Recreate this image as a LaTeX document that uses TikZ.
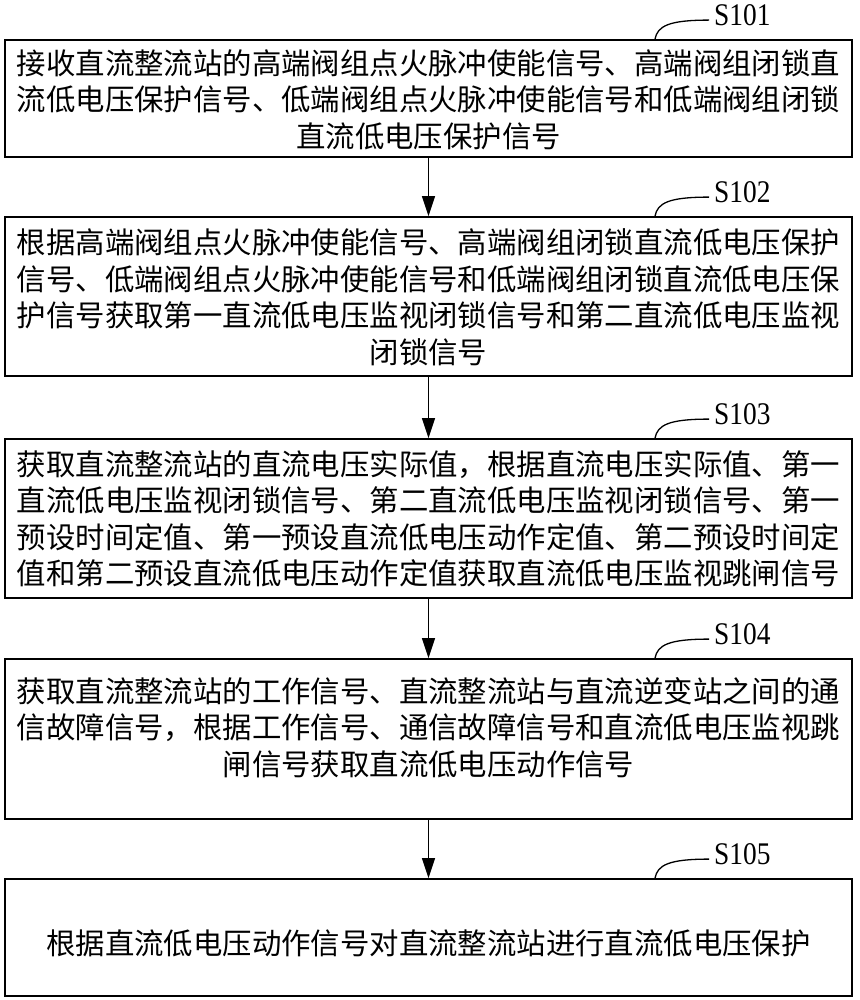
\documentclass[tikz,border=0pt]{standalone}
\usepackage{fontspec}
\setmainfont{Liberation Serif}
\newfontfamily\cjk{Noto Sans CJK SC}
\usetikzlibrary{arrows.meta}
\begin{document}
\begin{tikzpicture}[x=1pt,y=-1pt]
\tikzset{
  box/.style={draw, line width=1.8pt, minimum width=847pt, inner sep=0pt, fill=none},
  txt/.style={font=\cjk\fontsize{29.4}{36.5}\selectfont, align=center, inner sep=0pt},
  lab/.style={font=\fontsize{31.5}{31.5}\selectfont, inner sep=0pt, anchor=west},
  arr/.style={line width=1.3pt, -{Triangle[length=20pt,width=13pt]}},
  hook/.style={line width=1.3pt}
}
\fill[white] (0,0) rectangle (859,1000);
\useasboundingbox (0,0) rectangle (859,1000);

\node[box, minimum height=117pt] (b1) at (428.5,98.5) {};
\node[box, minimum height=159pt] (b2) at (428.5,296.5) {};
\node[box, minimum height=159pt] (b3) at (428.5,518.5) {};
\node[box, minimum height=160pt] (b4) at (428.5,739) {};
\node[box, minimum height=117pt] (b5) at (428.5,937.5) {};

\node[txt] (t1) at (428.5,99.5) {接收直流整流站的高端阀组点火脉冲使能信号、高端阀组闭锁直\\流低电压保护信号、低端阀组点火脉冲使能信号和低端阀组闭锁\\直流低电压保护信号};
\node[txt] (t2) at (428.5,297.5) {根据高端阀组点火脉冲使能信号、高端阀组闭锁直流低电压保护\\信号、低端阀组点火脉冲使能信号和低端阀组闭锁直流低电压保\\护信号获取第一直流低电压监视闭锁信号和第二直流低电压监视\\闭锁信号};
\node[txt] (t3) at (428.5,519) {获取直流整流站的直流电压实际值，根据直流电压实际值、第一\\直流低电压监视闭锁信号、第二直流低电压监视闭锁信号、第一\\预设时间定值、第一预设直流低电压动作定值、第二预设时间定\\值和第二预设直流低电压动作定值获取直流低电压监视跳闸信号};
\node[txt] (t4) at (428.5,727.5) {获取直流整流站的工作信号、直流整流站与直流逆变站之间的通\\信故障信号，根据工作信号、通信故障信号和直流低电压监视跳\\闸信号获取直流低电压动作信号};
\node[txt] (t5) at (428.5,943) {根据直流低电压动作信号对直流整流站进行直流低电压保护};

\draw[arr] (b1.south) -- (b2.north);
\draw[arr] (b2.south) -- (b3.north);
\draw[arr] (b3.south) -- (b4.north);
\draw[arr] (b4.south) -- (b5.north);

\foreach \i/\n in {1/S101,2/S102,3/S103,4/S104,5/S105}{
  \node[lab] (s\i) at ([xshift=285.5pt,yshift=24pt]b\i.north) {\scalebox{0.87}[1]{\n}};
  \coordinate (c\i) at ([xshift=-5pt,yshift=-5pt]s\i.west);
  \draw[hook] ([xshift=226.5pt]b\i.north) .. controls ([xshift=229pt,yshift=13pt]b\i.north) and ([xshift=240pt,yshift=19pt]b\i.north) .. (c\i);
}
\end{tikzpicture}
\end{document}
